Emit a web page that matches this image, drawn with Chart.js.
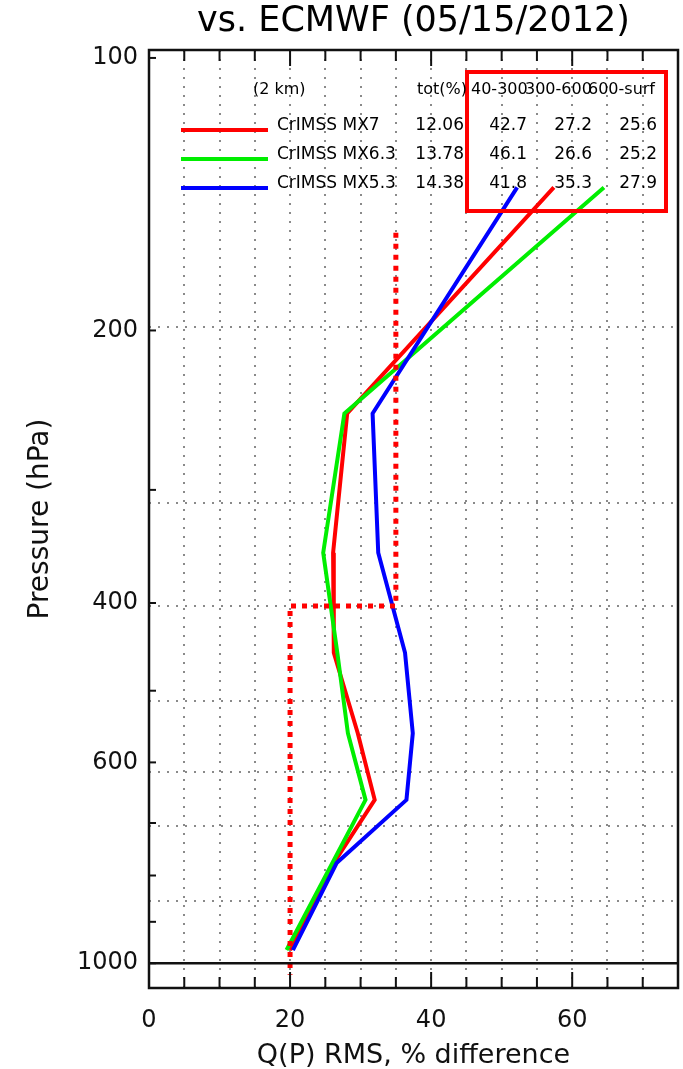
<!DOCTYPE html>
<html>
<head>
<meta charset="utf-8">
<script src="https://cdn.jsdelivr.net/npm/chart.js@4.4.1/dist/chart.umd.min.js"></script>
<style>
  html, body { margin: 0; padding: 0; background: #ffffff; }
  #wrap { width: 683px; height: 1069px; position: relative; }
  canvas { display: block; }
</style>
</head>
<body>
<div id="wrap"><canvas id="c" width="683" height="1069"></canvas></div>
<script>
// ---------------- data ----------------
const pressureLevels = [139, 247, 352, 454, 557, 660, 775, 967];
const mx7  = [57.4, 28.1, 26.1, 26.2, 29.6, 32.0, 26.2, 20.0];
const mx63 = [64.5, 27.7, 24.7, 26.7, 28.2, 30.7, 26.0, 19.5];
const mx53 = [52.2, 31.7, 32.5, 36.3, 37.4, 36.5, 26.6, 20.4];

const seriesNames = ['CrIMSS MX7', 'CrIMSS MX6.3', 'CrIMSS MX5.3'];
const totPct = ['12.06', '13.78', '14.38'];
const layer40to300 = ['42.7', '46.1', '41.8'];
const layer300to600 = ['27.2', '26.6', '35.3'];
const layer600toSurf = ['25.6', '25.2', '27.9'];
const tableHeaders = ['(2 km)', 'tot(%)', '40-300', '300-600', '600-surf'];

const thresholdX = [35, 35, 20, 20];
const thresholdP = [156, 403, 403, 1030];

const xGridValues = [0, 5, 10, 15, 20, 25, 30, 35, 40, 45, 50, 55, 60, 65, 70, 75];
const xTickLabels = [0, 20, 40, 60];
const yTickLabels = [100, 200, 400, 600, 1000];
const yMinorTicks = [300, 500, 700, 800, 900];
const pressureGridLevels = [198, 310, 403, 513, 615, 705, 853];
const surfaceLevel = 1000;

// styles
const seriesColors = ['#ff0000', '#00ee00', '#0000ff'];

const toPoints = (xs, ps) => ps.map((p, i) => ({ x: xs[i], y: p }));

Chart.defaults.font.family = '"DejaVu Sans", "Liberation Sans", sans-serif';
Chart.defaults.color = '#111111';

const decor = {
  id: 'decor',
  afterDatasetsDraw(chart) {
    const ctx = chart.ctx;
    ctx.save();
    ctx.strokeStyle = '#ff0000';
    ctx.lineWidth = 4;
    ctx.strokeRect(467, 72, 199, 139);
    ctx.fillStyle = '#000000';
    ctx.textBaseline = 'middle';
    ctx.textAlign = 'left';
    ctx.font = '16px "DejaVu Sans"';
    const hx = [253, 417, 471, 525, 588];
    tableHeaders.forEach((t, i) => ctx.fillText(t, hx[i], 90));
    const rowY = [126, 155, 184];
    const lineY = [130, 159, 188];
    ctx.font = '17px "DejaVu Sans"';
    for (let i = 0; i < 3; i++) {
      ctx.strokeStyle = seriesColors[i];
      ctx.lineWidth = 4;
      ctx.beginPath();
      ctx.moveTo(181, lineY[i]);
      ctx.lineTo(268, lineY[i]);
      ctx.stroke();
      ctx.textAlign = 'left';
      ctx.fillText(seriesNames[i], 277, rowY[i]);
      ctx.textAlign = 'right';
      ctx.fillText(totPct[i], 464, rowY[i]);
      ctx.fillText(layer40to300[i], 527, rowY[i]);
      ctx.fillText(layer300to600[i], 592, rowY[i]);
      ctx.fillText(layer600toSurf[i], 657, rowY[i]);
    }
    ctx.restore();
  },
  afterDraw(chart) {
    const ctx = chart.ctx;
    const a = chart.chartArea;
    const xs = chart.scales.x;
    const ys = chart.scales.y;
    ctx.save();
    ctx.strokeStyle = '#111111';
    ctx.lineWidth = 2.5;
    const ySurf = ys.getPixelForValue(surfaceLevel);
    ctx.beginPath();
    ctx.moveTo(a.left, ySurf);
    ctx.lineTo(a.right, ySurf);
    ctx.stroke();
    ctx.lineWidth = 2;
    xGridValues.forEach(v => {
      if (v === 0 || v === 75) return;
      const px = xs.getPixelForValue(v);
      const len = xTickLabels.includes(v) ? 16 : 11;
      ctx.beginPath();
      ctx.moveTo(px, a.bottom); ctx.lineTo(px, a.bottom - len);
      ctx.moveTo(px, a.top); ctx.lineTo(px, a.top + len);
      ctx.stroke();
    });
    [...yTickLabels, ...yMinorTicks].forEach(v => {
      const py = ys.getPixelForValue(v);
      ctx.beginPath();
      ctx.moveTo(a.left, py); ctx.lineTo(a.left + 7, py);
      ctx.stroke();
    });
    ctx.lineWidth = 2.5;
    ctx.strokeRect(a.left, a.top, a.right - a.left, a.bottom - a.top);
    ctx.restore();
  }
};

new Chart(document.getElementById('c'), {
  type: 'line',
  data: {
    datasets: [
      { label: 'Threshold', data: toPoints(thresholdX, thresholdP), borderColor: '#ff0000', borderWidth: 5,
        borderDash: [5, 6], pointRadius: 0, tension: 0, order: 0, fill: false },
      { label: seriesNames[2], data: toPoints(mx53, pressureLevels), borderColor: seriesColors[2], borderWidth: 4,
        pointRadius: 0, tension: 0, order: 1, fill: false },
      { label: seriesNames[1], data: toPoints(mx63, pressureLevels), borderColor: seriesColors[1], borderWidth: 4,
        pointRadius: 0, tension: 0, order: 2, fill: false },
      { label: seriesNames[0], data: toPoints(mx7, pressureLevels), borderColor: seriesColors[0], borderWidth: 4,
        pointRadius: 0, tension: 0, order: 3, fill: false }
    ]
  },
  options: {
    responsive: false,
    animation: false,
    devicePixelRatio: 1,
    layout: { padding: { top: 0, right: 5, bottom: 0, left: 0 } },
    plugins: {
      legend: { display: false },
      tooltip: { enabled: false },
      title: {
        display: true,
        fullSize: false,
        text: 'vs. ECMWF (05/15/2012)',
        color: '#000000',
        font: { size: 35, weight: 'normal' },
        padding: { top: 1, bottom: 7 }
      }
    },
    scales: {
      x: {
        type: 'linear', position: 'bottom', min: 0, max: 75,
        afterFit(s) { s.height = 81; s.paddingRight = 0; s.paddingLeft = 0; },
        afterBuildTicks(s) { s.ticks = xGridValues.map(v => ({ value: v })); },
        ticks: {
          autoSkip: false, maxRotation: 0, padding: 18, font: { size: 24 }, color: '#111111',
          callback: v => (xTickLabels.includes(v) ? String(v) : '')
        },
        grid: { color: '#8a8a8a', lineWidth: 2, drawTicks: false },
        border: { display: false, dash: [2, 7] },
        title: { display: true, text: 'Q(P) RMS, % difference', color: '#111111',
          font: { size: 27, lineHeight: 1 }, padding: { top: 0, bottom: 0 } }
      },
      y: {
        type: 'logarithmic', position: 'left', reverse: true, min: 98, max: 1065,
        afterFit(s) { s.width = 149; },
        afterBuildTicks(s) { s.ticks = yTickLabels.map(v => ({ value: v })); },
        ticks: { padding: 11, font: { size: 24 }, color: '#111111', callback: v => String(v) },
        grid: { display: false, drawTicks: false },
        border: { display: false },
        title: { display: true, text: 'Pressure (hPa)', color: '#111111',
          font: { size: 28, lineHeight: 1 }, padding: { top: 27, bottom: 0 } }
      },
      yGrid: {
        type: 'logarithmic', position: 'left', reverse: true, min: 98, max: 1065,
        afterFit(s) { s.width = 0; },
        afterBuildTicks(s) { s.ticks = pressureGridLevels.map(v => ({ value: v })); },
        ticks: { display: false },
        grid: { color: '#8a8a8a', lineWidth: 2, drawTicks: false },
        border: { display: false, dash: [2, 7] }
      }
    }
  },
  plugins: [decor]
});
</script>
</body>
</html>
